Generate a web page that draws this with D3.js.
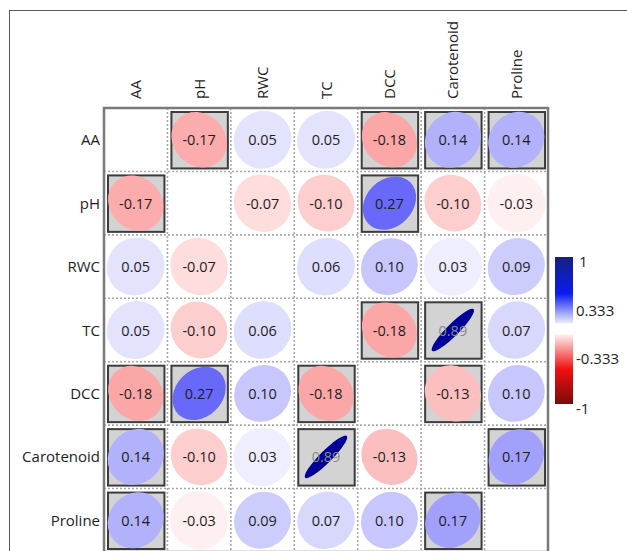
<!DOCTYPE html>
<html>
<head>
<meta charset="utf-8">
<script src="https://cdn.jsdelivr.net/npm/d3@7"></script>
<style>
  html, body { margin: 0; padding: 0; background: #fff; }
  svg { display: block; font-family: "Open Sans", "Noto Sans", sans-serif; }
</style>
</head>
<body>
<svg id="chart" width="627" height="551"></svg>
<script>
// Variables of the correlation matrix
const variables = ["AA", "pH", "RWC", "TC", "DCC", "Carotenoid", "Proline"];

// Pearson correlation coefficients, row by row (diagonal left blank)
const corrAA         = [1, -0.17, 0.05, 0.05, -0.18, 0.14, 0.14];
const corrPH         = [-0.17, 1, -0.07, -0.10, 0.27, -0.10, -0.03];
const corrRWC        = [0.05, -0.07, 1, 0.06, 0.10, 0.03, 0.09];
const corrTC         = [0.05, -0.10, 0.06, 1, -0.18, 0.89, 0.07];
const corrDCC        = [-0.18, 0.27, 0.10, -0.18, 1, -0.13, 0.10];
const corrCarotenoid = [0.14, -0.10, 0.03, 0.89, -0.13, 1, 0.17];
const corrProline    = [0.14, -0.03, 0.09, 0.07, 0.10, 0.17, 1];
const corrRows = [corrAA, corrPH, corrRWC, corrTC, corrDCC, corrCarotenoid, corrProline];

// Significant pairs [row, column] highlighted with a framed grey cell
const significant = [
  ["AA", "pH"], ["AA", "DCC"], ["AA", "Carotenoid"], ["AA", "Proline"],
  ["pH", "AA"], ["pH", "DCC"],
  ["TC", "DCC"], ["TC", "Carotenoid"],
  ["DCC", "AA"], ["DCC", "pH"], ["DCC", "TC"], ["DCC", "Carotenoid"],
  ["Carotenoid", "AA"], ["Carotenoid", "TC"], ["Carotenoid", "Proline"],
  ["Proline", "AA"], ["Proline", "Carotenoid"]
];

// Colour legend tick labels
const legendTicks = [1, 0.333, -0.333, -1];

// Plain hyphen for negative numbers
const locale = d3.formatLocale({ decimal: ".", thousands: ",", grouping: [3], currency: ["", ""], minus: "-" });
const fmtVal = locale.format(".2f");
const fmtTick = locale.format("");

const svg = d3.select("#chart");

// Outer frame
svg.append("rect")
  .attr("x", 9.5).attr("y", 10.5).attr("width", 640).attr("height", 600)
  .attr("fill", "none").attr("stroke", "#5a5a5a").attr("stroke-width", 1);

const x = d3.scaleBand().domain(variables).range([104, 548]);
const y = d3.scaleBand().domain(variables).range([108, 552]);
const cw = x.bandwidth(), ch = y.bandwidth();

const color = d3.scaleLinear()
  .domain([-1, -0.5, 0, 0.45, 1])
  .range(["#800000", "#f50a0a", "#ffffff", "#0505f5", "#000080"])
  .interpolate(d3.interpolateRgb);

const sigSet = new Set(significant.map(d => d[0] + "|" + d[1]));

const cells = [];
variables.forEach((rv, i) => {
  variables.forEach((cv, j) => {
    cells.push({ row: rv, col: cv, r: corrRows[i][j], diag: i === j, sig: sigSet.has(rv + "|" + cv) });
  });
});

const g = svg.append("g");

// Grey framed background for significant pairs
g.selectAll("rect.sig").data(cells.filter(d => d.sig)).join("rect")
  .attr("class", "sig")
  .attr("x", d => x(d.col) + 4).attr("y", d => y(d.row) + 4)
  .attr("width", cw - 7).attr("height", ch - 7)
  .attr("fill", "#d3d3d3").attr("stroke", "#3c3c3c").attr("stroke-width", 2);

// Dashed grid between cells
const gridG = g.append("g");
d3.range(1, variables.length).forEach(k => {
  const xx = x.range()[0] + k * cw;
  const yy = y.range()[0] + k * ch;
  gridG.append("line").attr("x1", xx).attr("x2", xx).attr("y1", y.range()[0]).attr("y2", y.range()[1])
    .attr("stroke", "#a8a8a8").attr("stroke-width", 1.6).attr("stroke-dasharray", "2,2");
  gridG.append("line").attr("y1", yy).attr("y2", yy).attr("x1", x.range()[0]).attr("x2", x.range()[1])
    .attr("stroke", "#a8a8a8").attr("stroke-width", 1.6).attr("stroke-dasharray", "2,2");
});

// Ellipses: major axis along the diagonal, narrowing as |r| grows
const semiMajor = cw * 0.465;
g.selectAll("ellipse.corr").data(cells.filter(d => !d.diag)).join("ellipse")
  .attr("class", "corr")
  .attr("cx", 0).attr("cy", 0)
  .attr("rx", semiMajor)
  .attr("ry", d => semiMajor * Math.pow(1 - Math.abs(d.r), 0.72))
  .attr("transform", d => `translate(${x(d.col) + cw / 2},${y(d.row) + ch / 2}) rotate(${d.r >= 0 ? -45 : 45})`)
  .attr("fill", d => color(d.r));

// Values
g.selectAll("text.val").data(cells.filter(d => !d.diag)).join("text")
  .attr("class", "val")
  .attr("x", d => x(d.col) + cw / 2)
  .attr("y", d => y(d.row) + ch / 2 + 5.5)
  .attr("text-anchor", "middle")
  .attr("font-size", 14.5)
  .attr("fill", d => Math.abs(d.r) > 0.6 ? "#8a8a8a" : "#1e1e1e")
  .text(d => fmtVal(d.r));

// Outer border of the matrix
g.append("rect")
  .attr("x", x.range()[0]).attr("y", y.range()[0])
  .attr("width", x.range()[1] - x.range()[0]).attr("height", y.range()[1] - y.range()[0])
  .attr("fill", "none").attr("stroke", "#7a7a7a").attr("stroke-width", 2.5);

// Row labels
svg.append("g").selectAll("text").data(variables).join("text")
  .attr("x", 100).attr("y", d => y(d) + ch / 2 + 5.5)
  .attr("text-anchor", "end").attr("font-size", 15).attr("fill", "#1e1e1e")
  .text(d => d);

// Column labels, rotated
svg.append("g").selectAll("text").data(variables).join("text")
  .attr("transform", d => `translate(${x(d) + cw / 2 + 5.5},99) rotate(-90)`)
  .attr("text-anchor", "start").attr("font-size", 15).attr("fill", "#1e1e1e")
  .text(d => d);

// Colour legend
const ly = d3.scaleLinear().domain([1, -1]).range([261, 408]);
const defs = svg.append("defs");
const gb = defs.append("linearGradient").attr("id", "gradPos").attr("x1", 0).attr("x2", 0).attr("y1", 0).attr("y2", 1);
gb.append("stop").attr("offset", "0%").attr("stop-color", "#16217e");
gb.append("stop").attr("offset", "55%").attr("stop-color", "#0a1cf0");
gb.append("stop").attr("offset", "100%").attr("stop-color", "#eef0ff");
const gr = defs.append("linearGradient").attr("id", "gradNeg").attr("x1", 0).attr("x2", 0).attr("y1", 0).attr("y2", 1);
gr.append("stop").attr("offset", "0%").attr("stop-color", "#fff0f0");
gr.append("stop").attr("offset", "50%").attr("stop-color", "#f01010");
gr.append("stop").attr("offset", "100%").attr("stop-color", "#7a0a0a");

const legX = 555, legW = 18;
svg.append("rect").attr("x", legX).attr("y", ly(1) - 4).attr("width", legW)
  .attr("height", ly(0.15) - (ly(1) - 4)).attr("fill", "url(#gradPos)");
svg.append("rect").attr("x", legX).attr("y", ly(0)).attr("width", legW)
  .attr("height", ly(-1) - 4 - ly(0)).attr("fill", "url(#gradNeg)");

svg.append("g").selectAll("text").data(legendTicks).join("text")
  .attr("x", d => d === 1 ? 579 : 576).attr("y", d => ly(d) + 5.5)
  .attr("font-size", 15).attr("fill", "#1e1e1e")
  .text(d => fmtTick(d));
</script>
</body>
</html>
